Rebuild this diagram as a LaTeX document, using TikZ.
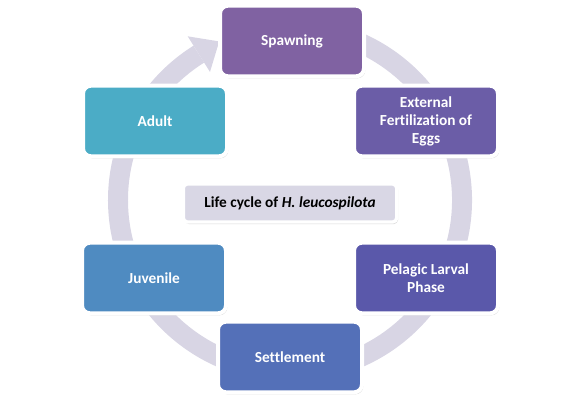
\documentclass[tikz,border=0pt]{standalone}
\usepackage{fontspec}
\setmainfont{Carlito}[Ligatures={NoCommon}]
\usetikzlibrary{shadows,calc}
\definecolor{ringc}{RGB}{216,213,228}
\definecolor{cspawn}{RGB}{128,98,162}
\definecolor{cext}{RGB}{107,93,167}
\definecolor{cpel}{RGB}{90,88,170}
\definecolor{cset}{RGB}{84,112,184}
\definecolor{cjuv}{RGB}{79,139,193}
\definecolor{cadult}{RGB}{75,172,198}
\definecolor{clabel}{RGB}{217,215,229}
\tikzset{
  stagebox/.style={rounded corners=6pt, draw=white, line width=3pt,
    minimum width=108pt, minimum height=53pt, align=center,
    text=white, font=\fontsize{11.5}{13.5}\selectfont\bfseries,
    drop shadow={opacity=0.3, shadow xshift=1pt, shadow yshift=-1.5pt}},
  titlebox/.style={rounded corners=3pt, draw=white, line width=2.5pt,
    fill=clabel, minimum width=160pt, minimum height=28.5pt,
    font=\fontsize{11.5}{13.5}\selectfont\bfseries,
    drop shadow={opacity=0.3, shadow xshift=1pt, shadow yshift=-1.5pt}},
  ringstyle/.style={draw=ringc, line width=15pt}
}
\begin{document}
\begin{tikzpicture}[x=0.75pt,y=-0.75pt]
\useasboundingbox (0,0) rectangle (580,403);
% circular arrow
\begin{scope}[shift={(290,200)}, yscale=-1]
  \draw[ringstyle] (100:172) arc[start angle=100, end angle=-238, radius=172];
  \fill[ringc] (122:193) -- ($(122:172)+(32:24)$) -- (122:151) -- cycle;
\end{scope}
% stages
\node[stagebox, fill=cspawn] (spawn) at (292,41) {Spawning};
\node[stagebox, fill=cext] (ext) at (426,121) {External\\Fertilization of\\Eggs};
\node[stagebox, fill=cpel] (pel) at (426,278) {Pelagic Larval\\Phase};
\node[stagebox, fill=cset] (set) at (290,357) {Settlement};
\node[stagebox, fill=cjuv] (juv) at (154,278) {Juvenile};
\node[stagebox, fill=cadult] (adult) at (155,121) {Adult};
% title
\node[titlebox] (title) at (290,203) {Life cycle of \textit{H. leucospilota}};
\end{tikzpicture}
\end{document}
